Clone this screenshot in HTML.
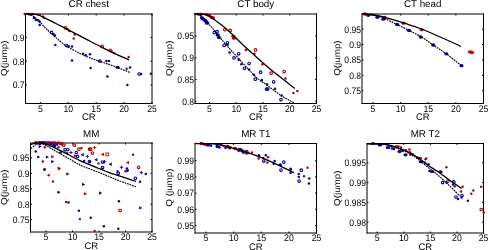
<!DOCTYPE html>
<html><head><meta charset="utf-8"><style>
html,body{margin:0;padding:0;background:#fff;width:488px;height:250px;overflow:hidden}
svg{display:block;will-change:transform}
</style></head><body>
<svg width="488" height="250" viewBox="0 0 488 250" font-family='"Liberation Sans", sans-serif' fill="#000" text-rendering="geometricPrecision">
<rect width="488" height="250" fill="#fff"/>
<line x1="25.5" y1="14" x2="25.5" y2="104.0" stroke="#000" stroke-width="1" />
<line x1="152" y1="13.5" x2="152" y2="104.0" stroke="#000" stroke-width="1" />
<line x1="25.0" y1="14" x2="152.5" y2="14" stroke="#000" stroke-width="1" />
<line x1="25.0" y1="103.5" x2="152.5" y2="103.5" stroke="#000" stroke-width="1" />
<line x1="40.4" y1="103.5" x2="40.4" y2="102.0" stroke="#000" stroke-width="1" />
<line x1="40.4" y1="14" x2="40.4" y2="15.5" stroke="#000" stroke-width="1" />
<text transform="translate(40.4,111.7) scale(1,1.1)" font-size="8.7" text-anchor="middle" >5</text>
<line x1="68.3" y1="103.5" x2="68.3" y2="102.0" stroke="#000" stroke-width="1" />
<line x1="68.3" y1="14" x2="68.3" y2="15.5" stroke="#000" stroke-width="1" />
<text transform="translate(68.3,111.7) scale(1,1.1)" font-size="8.7" text-anchor="middle" >10</text>
<line x1="96.19999999999999" y1="103.5" x2="96.19999999999999" y2="102.0" stroke="#000" stroke-width="1" />
<line x1="96.19999999999999" y1="14" x2="96.19999999999999" y2="15.5" stroke="#000" stroke-width="1" />
<text transform="translate(96.19999999999999,111.7) scale(1,1.1)" font-size="8.7" text-anchor="middle" >15</text>
<line x1="124.1" y1="103.5" x2="124.1" y2="102.0" stroke="#000" stroke-width="1" />
<line x1="124.1" y1="14" x2="124.1" y2="15.5" stroke="#000" stroke-width="1" />
<text transform="translate(124.1,111.7) scale(1,1.1)" font-size="8.7" text-anchor="middle" >20</text>
<line x1="152.0" y1="103.5" x2="152.0" y2="102.0" stroke="#000" stroke-width="1" />
<line x1="152.0" y1="14" x2="152.0" y2="15.5" stroke="#000" stroke-width="1" />
<text transform="translate(152.0,111.7) scale(1,1.1)" font-size="8.7" text-anchor="middle" >25</text>
<line x1="25.5" y1="37.4" x2="27.0" y2="37.4" stroke="#000" stroke-width="1" />
<line x1="152" y1="37.4" x2="150.5" y2="37.4" stroke="#000" stroke-width="1" />
<text transform="translate(24.6,40.699999999999996) scale(1,1.1)" font-size="8.6" text-anchor="end" >0.9</text>
<line x1="25.5" y1="61.2" x2="27.0" y2="61.2" stroke="#000" stroke-width="1" />
<line x1="152" y1="61.2" x2="150.5" y2="61.2" stroke="#000" stroke-width="1" />
<text transform="translate(24.6,64.5) scale(1,1.1)" font-size="8.6" text-anchor="end" >0.8</text>
<line x1="25.5" y1="85.0" x2="27.0" y2="85.0" stroke="#000" stroke-width="1" />
<line x1="152" y1="85.0" x2="150.5" y2="85.0" stroke="#000" stroke-width="1" />
<text transform="translate(24.6,88.3) scale(1,1.1)" font-size="8.6" text-anchor="end" >0.7</text>
<text transform="translate(88.75,7.3) scale(1,1.0)" font-size="9.8" text-anchor="middle" >CR chest</text>
<text transform="translate(88.75,120.4) scale(1,1.0)" font-size="9.5" text-anchor="middle" >CR</text>
<text x="0" y="0" font-size="9.8" text-anchor="middle" transform="translate(7.35,58.2) rotate(-90) scale(1,0.87)" xml:space="preserve">Q(jump)</text>
<line x1="195" y1="14" x2="195" y2="104.0" stroke="#000" stroke-width="1" />
<line x1="316.5" y1="13.5" x2="316.5" y2="104.0" stroke="#000" stroke-width="1" />
<line x1="194.5" y1="14" x2="317.0" y2="14" stroke="#000" stroke-width="1" />
<line x1="194.5" y1="103.5" x2="317.0" y2="103.5" stroke="#000" stroke-width="1" />
<line x1="209.5" y1="103.5" x2="209.5" y2="102.0" stroke="#000" stroke-width="1" />
<line x1="209.5" y1="14" x2="209.5" y2="15.5" stroke="#000" stroke-width="1" />
<text transform="translate(209.5,111.7) scale(1,1.1)" font-size="8.7" text-anchor="middle" >5</text>
<line x1="236.25" y1="103.5" x2="236.25" y2="102.0" stroke="#000" stroke-width="1" />
<line x1="236.25" y1="14" x2="236.25" y2="15.5" stroke="#000" stroke-width="1" />
<text transform="translate(236.25,111.7) scale(1,1.1)" font-size="8.7" text-anchor="middle" >10</text>
<line x1="263.0" y1="103.5" x2="263.0" y2="102.0" stroke="#000" stroke-width="1" />
<line x1="263.0" y1="14" x2="263.0" y2="15.5" stroke="#000" stroke-width="1" />
<text transform="translate(263.0,111.7) scale(1,1.1)" font-size="8.7" text-anchor="middle" >15</text>
<line x1="289.75" y1="103.5" x2="289.75" y2="102.0" stroke="#000" stroke-width="1" />
<line x1="289.75" y1="14" x2="289.75" y2="15.5" stroke="#000" stroke-width="1" />
<text transform="translate(289.75,111.7) scale(1,1.1)" font-size="8.7" text-anchor="middle" >20</text>
<line x1="316.5" y1="103.5" x2="316.5" y2="102.0" stroke="#000" stroke-width="1" />
<line x1="316.5" y1="14" x2="316.5" y2="15.5" stroke="#000" stroke-width="1" />
<text transform="translate(316.5,111.7) scale(1,1.1)" font-size="8.7" text-anchor="middle" >25</text>
<line x1="195" y1="36.1" x2="196.5" y2="36.1" stroke="#000" stroke-width="1" />
<line x1="316.5" y1="36.1" x2="315.0" y2="36.1" stroke="#000" stroke-width="1" />
<text transform="translate(194.1,39.4) scale(1,1.1)" font-size="8.6" text-anchor="end" >0.95</text>
<line x1="195" y1="57.8" x2="196.5" y2="57.8" stroke="#000" stroke-width="1" />
<line x1="316.5" y1="57.8" x2="315.0" y2="57.8" stroke="#000" stroke-width="1" />
<text transform="translate(194.1,61.099999999999994) scale(1,1.1)" font-size="8.6" text-anchor="end" >0.9</text>
<line x1="195" y1="79.5" x2="196.5" y2="79.5" stroke="#000" stroke-width="1" />
<line x1="316.5" y1="79.5" x2="315.0" y2="79.5" stroke="#000" stroke-width="1" />
<text transform="translate(194.1,82.8) scale(1,1.1)" font-size="8.6" text-anchor="end" >0.85</text>
<line x1="195" y1="101.19999999999999" x2="196.5" y2="101.19999999999999" stroke="#000" stroke-width="1" />
<line x1="316.5" y1="101.19999999999999" x2="315.0" y2="101.19999999999999" stroke="#000" stroke-width="1" />
<text transform="translate(194.1,104.49999999999999) scale(1,1.1)" font-size="8.6" text-anchor="end" >0.8</text>
<text transform="translate(255.75,7.3) scale(1,1.0)" font-size="9.8" text-anchor="middle" >CT body</text>
<text transform="translate(255.75,120.4) scale(1,1.0)" font-size="9.5" text-anchor="middle" >CR</text>
<text x="0" y="0" font-size="9.8" text-anchor="middle" transform="translate(172.35,58.3) rotate(-90) scale(1,0.87)" xml:space="preserve">Q(jump)</text>
<line x1="362" y1="14" x2="362" y2="104.0" stroke="#000" stroke-width="1" />
<line x1="483.5" y1="13.5" x2="483.5" y2="104.0" stroke="#000" stroke-width="1" />
<line x1="361.5" y1="14" x2="484.0" y2="14" stroke="#000" stroke-width="1" />
<line x1="361.5" y1="103.5" x2="484.0" y2="103.5" stroke="#000" stroke-width="1" />
<line x1="373.0" y1="103.5" x2="373.0" y2="102.0" stroke="#000" stroke-width="1" />
<line x1="373.0" y1="14" x2="373.0" y2="15.5" stroke="#000" stroke-width="1" />
<text transform="translate(373.0,111.7) scale(1,1.1)" font-size="8.7" text-anchor="middle" >5</text>
<line x1="400.625" y1="103.5" x2="400.625" y2="102.0" stroke="#000" stroke-width="1" />
<line x1="400.625" y1="14" x2="400.625" y2="15.5" stroke="#000" stroke-width="1" />
<text transform="translate(400.625,111.7) scale(1,1.1)" font-size="8.7" text-anchor="middle" >10</text>
<line x1="428.25" y1="103.5" x2="428.25" y2="102.0" stroke="#000" stroke-width="1" />
<line x1="428.25" y1="14" x2="428.25" y2="15.5" stroke="#000" stroke-width="1" />
<text transform="translate(428.25,111.7) scale(1,1.1)" font-size="8.7" text-anchor="middle" >15</text>
<line x1="455.875" y1="103.5" x2="455.875" y2="102.0" stroke="#000" stroke-width="1" />
<line x1="455.875" y1="14" x2="455.875" y2="15.5" stroke="#000" stroke-width="1" />
<text transform="translate(455.875,111.7) scale(1,1.1)" font-size="8.7" text-anchor="middle" >20</text>
<line x1="483.5" y1="103.5" x2="483.5" y2="102.0" stroke="#000" stroke-width="1" />
<line x1="483.5" y1="14" x2="483.5" y2="15.5" stroke="#000" stroke-width="1" />
<text transform="translate(483.5,111.7) scale(1,1.1)" font-size="8.7" text-anchor="middle" >25</text>
<line x1="362" y1="29.2" x2="363.5" y2="29.2" stroke="#000" stroke-width="1" />
<line x1="483.5" y1="29.2" x2="482.0" y2="29.2" stroke="#000" stroke-width="1" />
<text transform="translate(361.1,32.5) scale(1,1.1)" font-size="8.6" text-anchor="end" >0.95</text>
<line x1="362" y1="44.6" x2="363.5" y2="44.6" stroke="#000" stroke-width="1" />
<line x1="483.5" y1="44.6" x2="482.0" y2="44.6" stroke="#000" stroke-width="1" />
<text transform="translate(361.1,47.9) scale(1,1.1)" font-size="8.6" text-anchor="end" >0.9</text>
<line x1="362" y1="60.0" x2="363.5" y2="60.0" stroke="#000" stroke-width="1" />
<line x1="483.5" y1="60.0" x2="482.0" y2="60.0" stroke="#000" stroke-width="1" />
<text transform="translate(361.1,63.3) scale(1,1.1)" font-size="8.6" text-anchor="end" >0.85</text>
<line x1="362" y1="75.4" x2="363.5" y2="75.4" stroke="#000" stroke-width="1" />
<line x1="483.5" y1="75.4" x2="482.0" y2="75.4" stroke="#000" stroke-width="1" />
<text transform="translate(361.1,78.7) scale(1,1.1)" font-size="8.6" text-anchor="end" >0.8</text>
<line x1="362" y1="90.80000000000001" x2="363.5" y2="90.80000000000001" stroke="#000" stroke-width="1" />
<line x1="483.5" y1="90.80000000000001" x2="482.0" y2="90.80000000000001" stroke="#000" stroke-width="1" />
<text transform="translate(361.1,94.10000000000001) scale(1,1.1)" font-size="8.6" text-anchor="end" >0.75</text>
<text transform="translate(422.75,7.3) scale(1,1.0)" font-size="9.8" text-anchor="middle" >CT head</text>
<text transform="translate(422.75,120.4) scale(1,1.0)" font-size="9.5" text-anchor="middle" >CR</text>
<text x="0" y="0" font-size="9.8" text-anchor="middle" transform="translate(340.1,58.1) rotate(-90) scale(1,0.87)" xml:space="preserve">Q(jump)</text>
<line x1="30.5" y1="143" x2="30.5" y2="232.5" stroke="#000" stroke-width="1" />
<line x1="152" y1="142.5" x2="152" y2="232.5" stroke="#000" stroke-width="1" />
<line x1="30.0" y1="143" x2="152.5" y2="143" stroke="#000" stroke-width="1" />
<line x1="30.0" y1="232" x2="152.5" y2="232" stroke="#000" stroke-width="1" />
<line x1="46.0" y1="232" x2="46.0" y2="230.5" stroke="#000" stroke-width="1" />
<line x1="46.0" y1="143" x2="46.0" y2="144.5" stroke="#000" stroke-width="1" />
<text transform="translate(46.0,240.2) scale(1,1.1)" font-size="8.7" text-anchor="middle" >5</text>
<line x1="72.5" y1="232" x2="72.5" y2="230.5" stroke="#000" stroke-width="1" />
<line x1="72.5" y1="143" x2="72.5" y2="144.5" stroke="#000" stroke-width="1" />
<text transform="translate(72.5,240.2) scale(1,1.1)" font-size="8.7" text-anchor="middle" >10</text>
<line x1="99.0" y1="232" x2="99.0" y2="230.5" stroke="#000" stroke-width="1" />
<line x1="99.0" y1="143" x2="99.0" y2="144.5" stroke="#000" stroke-width="1" />
<text transform="translate(99.0,240.2) scale(1,1.1)" font-size="8.7" text-anchor="middle" >15</text>
<line x1="125.5" y1="232" x2="125.5" y2="230.5" stroke="#000" stroke-width="1" />
<line x1="125.5" y1="143" x2="125.5" y2="144.5" stroke="#000" stroke-width="1" />
<text transform="translate(125.5,240.2) scale(1,1.1)" font-size="8.7" text-anchor="middle" >20</text>
<line x1="152.0" y1="232" x2="152.0" y2="230.5" stroke="#000" stroke-width="1" />
<line x1="152.0" y1="143" x2="152.0" y2="144.5" stroke="#000" stroke-width="1" />
<text transform="translate(152.0,240.2) scale(1,1.1)" font-size="8.7" text-anchor="middle" >25</text>
<line x1="30.5" y1="158.0" x2="32.0" y2="158.0" stroke="#000" stroke-width="1" />
<line x1="152" y1="158.0" x2="150.5" y2="158.0" stroke="#000" stroke-width="1" />
<text transform="translate(29.6,161.3) scale(1,1.1)" font-size="8.6" text-anchor="end" >0.95</text>
<line x1="30.5" y1="173.4" x2="32.0" y2="173.4" stroke="#000" stroke-width="1" />
<line x1="152" y1="173.4" x2="150.5" y2="173.4" stroke="#000" stroke-width="1" />
<text transform="translate(29.6,176.70000000000002) scale(1,1.1)" font-size="8.6" text-anchor="end" >0.9</text>
<line x1="30.5" y1="188.8" x2="32.0" y2="188.8" stroke="#000" stroke-width="1" />
<line x1="152" y1="188.8" x2="150.5" y2="188.8" stroke="#000" stroke-width="1" />
<text transform="translate(29.6,192.10000000000002) scale(1,1.1)" font-size="8.6" text-anchor="end" >0.85</text>
<line x1="30.5" y1="204.20000000000002" x2="32.0" y2="204.20000000000002" stroke="#000" stroke-width="1" />
<line x1="152" y1="204.20000000000002" x2="150.5" y2="204.20000000000002" stroke="#000" stroke-width="1" />
<text transform="translate(29.6,207.50000000000003) scale(1,1.1)" font-size="8.6" text-anchor="end" >0.8</text>
<line x1="30.5" y1="219.60000000000002" x2="32.0" y2="219.60000000000002" stroke="#000" stroke-width="1" />
<line x1="152" y1="219.60000000000002" x2="150.5" y2="219.60000000000002" stroke="#000" stroke-width="1" />
<text transform="translate(29.6,222.90000000000003) scale(1,1.1)" font-size="8.6" text-anchor="end" >0.75</text>
<text transform="translate(91.25,136.5) scale(1,1.0)" font-size="9.8" text-anchor="middle" >MM</text>
<text transform="translate(91.25,248.9) scale(1,1.0)" font-size="9.5" text-anchor="middle" >CR</text>
<text x="0" y="0" font-size="9.8" text-anchor="middle" transform="translate(7.1499999999999995,187.3) rotate(-90) scale(1,0.87)" xml:space="preserve">Q(jump)</text>
<line x1="195" y1="143.5" x2="195" y2="233.5" stroke="#000" stroke-width="1" />
<line x1="316.5" y1="143.0" x2="316.5" y2="233.5" stroke="#000" stroke-width="1" />
<line x1="194.5" y1="143.5" x2="317.0" y2="143.5" stroke="#000" stroke-width="1" />
<line x1="194.5" y1="233" x2="317.0" y2="233" stroke="#000" stroke-width="1" />
<line x1="206.0" y1="233" x2="206.0" y2="231.5" stroke="#000" stroke-width="1" />
<line x1="206.0" y1="143.5" x2="206.0" y2="145.0" stroke="#000" stroke-width="1" />
<text transform="translate(206.0,241.2) scale(1,1.1)" font-size="8.7" text-anchor="middle" >5</text>
<line x1="233.625" y1="233" x2="233.625" y2="231.5" stroke="#000" stroke-width="1" />
<line x1="233.625" y1="143.5" x2="233.625" y2="145.0" stroke="#000" stroke-width="1" />
<text transform="translate(233.625,241.2) scale(1,1.1)" font-size="8.7" text-anchor="middle" >10</text>
<line x1="261.25" y1="233" x2="261.25" y2="231.5" stroke="#000" stroke-width="1" />
<line x1="261.25" y1="143.5" x2="261.25" y2="145.0" stroke="#000" stroke-width="1" />
<text transform="translate(261.25,241.2) scale(1,1.1)" font-size="8.7" text-anchor="middle" >15</text>
<line x1="288.875" y1="233" x2="288.875" y2="231.5" stroke="#000" stroke-width="1" />
<line x1="288.875" y1="143.5" x2="288.875" y2="145.0" stroke="#000" stroke-width="1" />
<text transform="translate(288.875,241.2) scale(1,1.1)" font-size="8.7" text-anchor="middle" >20</text>
<line x1="316.5" y1="233" x2="316.5" y2="231.5" stroke="#000" stroke-width="1" />
<line x1="316.5" y1="143.5" x2="316.5" y2="145.0" stroke="#000" stroke-width="1" />
<text transform="translate(316.5,241.2) scale(1,1.1)" font-size="8.7" text-anchor="middle" >25</text>
<line x1="195" y1="160.7" x2="196.5" y2="160.7" stroke="#000" stroke-width="1" />
<line x1="316.5" y1="160.7" x2="315.0" y2="160.7" stroke="#000" stroke-width="1" />
<text transform="translate(194.1,164.0) scale(1,1.1)" font-size="8.6" text-anchor="end" >0.99</text>
<line x1="195" y1="176.9" x2="196.5" y2="176.9" stroke="#000" stroke-width="1" />
<line x1="316.5" y1="176.9" x2="315.0" y2="176.9" stroke="#000" stroke-width="1" />
<text transform="translate(194.1,180.20000000000002) scale(1,1.1)" font-size="8.6" text-anchor="end" >0.98</text>
<line x1="195" y1="193.10000000000002" x2="196.5" y2="193.10000000000002" stroke="#000" stroke-width="1" />
<line x1="316.5" y1="193.10000000000002" x2="315.0" y2="193.10000000000002" stroke="#000" stroke-width="1" />
<text transform="translate(194.1,196.40000000000003) scale(1,1.1)" font-size="8.6" text-anchor="end" >0.97</text>
<line x1="195" y1="209.30000000000004" x2="196.5" y2="209.30000000000004" stroke="#000" stroke-width="1" />
<line x1="316.5" y1="209.30000000000004" x2="315.0" y2="209.30000000000004" stroke="#000" stroke-width="1" />
<text transform="translate(194.1,212.60000000000005) scale(1,1.1)" font-size="8.6" text-anchor="end" >0.96</text>
<line x1="195" y1="225.50000000000006" x2="196.5" y2="225.50000000000006" stroke="#000" stroke-width="1" />
<line x1="316.5" y1="225.50000000000006" x2="315.0" y2="225.50000000000006" stroke="#000" stroke-width="1" />
<text transform="translate(194.1,228.80000000000007) scale(1,1.1)" font-size="8.6" text-anchor="end" >0.95</text>
<text transform="translate(255.75,137.0) scale(1,1.0)" font-size="9.8" text-anchor="middle" >MR T1</text>
<text transform="translate(255.75,249.9) scale(1,1.0)" font-size="9.5" text-anchor="middle" >CR</text>
<text x="0" y="0" font-size="9.8" text-anchor="middle" transform="translate(172.2,187.6) rotate(-90) scale(1,0.87)" xml:space="preserve">Q (jump)</text>
<line x1="367" y1="143.5" x2="367" y2="233.5" stroke="#000" stroke-width="1" />
<line x1="483.5" y1="143.0" x2="483.5" y2="233.5" stroke="#000" stroke-width="1" />
<line x1="366.5" y1="143.5" x2="484.0" y2="143.5" stroke="#000" stroke-width="1" />
<line x1="366.5" y1="233" x2="484.0" y2="233" stroke="#000" stroke-width="1" />
<line x1="377.25" y1="233" x2="377.25" y2="231.5" stroke="#000" stroke-width="1" />
<line x1="377.25" y1="143.5" x2="377.25" y2="145.0" stroke="#000" stroke-width="1" />
<text transform="translate(377.25,241.2) scale(1,1.1)" font-size="8.7" text-anchor="middle" >5</text>
<line x1="403.8125" y1="233" x2="403.8125" y2="231.5" stroke="#000" stroke-width="1" />
<line x1="403.8125" y1="143.5" x2="403.8125" y2="145.0" stroke="#000" stroke-width="1" />
<text transform="translate(403.8125,241.2) scale(1,1.1)" font-size="8.7" text-anchor="middle" >10</text>
<line x1="430.375" y1="233" x2="430.375" y2="231.5" stroke="#000" stroke-width="1" />
<line x1="430.375" y1="143.5" x2="430.375" y2="145.0" stroke="#000" stroke-width="1" />
<text transform="translate(430.375,241.2) scale(1,1.1)" font-size="8.7" text-anchor="middle" >15</text>
<line x1="456.9375" y1="233" x2="456.9375" y2="231.5" stroke="#000" stroke-width="1" />
<line x1="456.9375" y1="143.5" x2="456.9375" y2="145.0" stroke="#000" stroke-width="1" />
<text transform="translate(456.9375,241.2) scale(1,1.1)" font-size="8.7" text-anchor="middle" >20</text>
<line x1="483.5" y1="233" x2="483.5" y2="231.5" stroke="#000" stroke-width="1" />
<line x1="483.5" y1="143.5" x2="483.5" y2="145.0" stroke="#000" stroke-width="1" />
<text transform="translate(483.5,241.2) scale(1,1.1)" font-size="8.7" text-anchor="middle" >25</text>
<line x1="367" y1="162.8" x2="368.5" y2="162.8" stroke="#000" stroke-width="1" />
<line x1="483.5" y1="162.8" x2="482.0" y2="162.8" stroke="#000" stroke-width="1" />
<text transform="translate(366.1,166.10000000000002) scale(1,1.1)" font-size="8.6" text-anchor="end" >0.995</text>
<line x1="367" y1="182.6" x2="368.5" y2="182.6" stroke="#000" stroke-width="1" />
<line x1="483.5" y1="182.6" x2="482.0" y2="182.6" stroke="#000" stroke-width="1" />
<text transform="translate(366.1,185.9) scale(1,1.1)" font-size="8.6" text-anchor="end" >0.99</text>
<line x1="367" y1="202.39999999999998" x2="368.5" y2="202.39999999999998" stroke="#000" stroke-width="1" />
<line x1="483.5" y1="202.39999999999998" x2="482.0" y2="202.39999999999998" stroke="#000" stroke-width="1" />
<text transform="translate(366.1,205.7) scale(1,1.1)" font-size="8.6" text-anchor="end" >0.985</text>
<line x1="367" y1="222.19999999999996" x2="368.5" y2="222.19999999999996" stroke="#000" stroke-width="1" />
<line x1="483.5" y1="222.19999999999996" x2="482.0" y2="222.19999999999996" stroke="#000" stroke-width="1" />
<text transform="translate(366.1,225.49999999999997) scale(1,1.1)" font-size="8.6" text-anchor="end" >0.98</text>
<text transform="translate(425.25,137.0) scale(1,1.0)" font-size="9.8" text-anchor="middle" >MR T2</text>
<text transform="translate(425.25,249.9) scale(1,1.0)" font-size="9.5" text-anchor="middle" >CR</text>
<text x="0" y="0" font-size="9.8" text-anchor="middle" transform="translate(340.1,188.2) rotate(-90) scale(1,0.87)" xml:space="preserve">Q(jump)</text>
<circle cx="24.7" cy="14" r="1.25" fill="#c00000"/>
<circle cx="32.5" cy="14" r="1.25" fill="#c00000"/>
<circle cx="38.4" cy="14.5" r="1.25" fill="#c00000"/>
<circle cx="43" cy="16.5" r="1.25" fill="#c00000"/>
<circle cx="44.3" cy="18" r="1.25" fill="#c00000"/>
<circle cx="65.4" cy="27.8" r="1.3" fill="none" stroke="#c00000" stroke-width="1.1"/>
<circle cx="67.3" cy="29" r="1.25" fill="#c00000"/>
<circle cx="69.3" cy="31" r="1.25" fill="#c00000"/>
<circle cx="73.7" cy="38.6" r="1.25" fill="#c00000"/>
<circle cx="74.7" cy="34.5" r="1.25" fill="#c00000"/>
<circle cx="102.2" cy="46.4" r="1.3" fill="none" stroke="#c00000" stroke-width="1.1"/>
<circle cx="110.3" cy="50.3" r="1.3" fill="none" stroke="#c00000" stroke-width="1.1"/>
<circle cx="111.6" cy="51.2" r="1.25" fill="#c00000"/>
<circle cx="114.3" cy="53.2" r="1.25" fill="#c00000"/>
<circle cx="128.7" cy="56.9" r="1.25" fill="#c00000"/>
<circle cx="126.7" cy="68.7" r="1.25" fill="#c00000"/>
<circle cx="28.6" cy="14" r="1.25" fill="#0000b4"/>
<circle cx="30.6" cy="14.5" r="1.25" fill="#0000b4"/>
<circle cx="33.9" cy="17.9" r="1.25" fill="#0000b4"/>
<circle cx="35.8" cy="19.9" r="1.25" fill="#0000b4"/>
<circle cx="38.4" cy="20.5" r="1.25" fill="#0000b4"/>
<circle cx="39.7" cy="21.8" r="1.25" fill="#0000b4"/>
<circle cx="39.7" cy="25.1" r="1.25" fill="#0000b4"/>
<circle cx="51.6" cy="32.4" r="1.3" fill="none" stroke="#0000b4" stroke-width="1.1"/>
<circle cx="53.6" cy="34.3" r="1.25" fill="#0000b4"/>
<circle cx="54.9" cy="35.6" r="1.25" fill="#0000b4"/>
<circle cx="55.3" cy="45" r="1.25" fill="#0000b4"/>
<circle cx="66.7" cy="45.6" r="1.3" fill="none" stroke="#0000b4" stroke-width="1.1"/>
<circle cx="68.7" cy="46.6" r="1.25" fill="#0000b4"/>
<circle cx="72" cy="46.4" r="1.25" fill="#0000b4"/>
<circle cx="72" cy="60.4" r="1.25" fill="#0000b4"/>
<circle cx="83.2" cy="53.8" r="1.25" fill="#0000b4"/>
<circle cx="85.8" cy="55.2" r="1.25" fill="#0000b4"/>
<circle cx="90" cy="54.2" r="1.25" fill="#0000b4"/>
<circle cx="99.8" cy="61.1" r="1.3" fill="none" stroke="#0000b4" stroke-width="1.1"/>
<circle cx="106.4" cy="61.1" r="1.25" fill="#0000b4"/>
<circle cx="109" cy="61" r="1.25" fill="#0000b4"/>
<circle cx="90.6" cy="68" r="1.25" fill="#0000b4"/>
<ellipse cx="117.6" cy="67.4" rx="2.1" ry="1.65" fill="#0000b4"/>
<circle cx="130" cy="67.6" r="1.25" fill="#0000b4"/>
<circle cx="107.4" cy="76.6" r="1.25" fill="#0000b4"/>
<circle cx="127.4" cy="84.9" r="1.25" fill="#0000b4"/>
<circle cx="139.2" cy="74" r="1.3" fill="none" stroke="#0000b4" stroke-width="1.1"/>
<circle cx="141.2" cy="74" r="1.25" fill="#0000b4"/>
<circle cx="151" cy="73.7" r="1.25" fill="#0000b4"/>
<circle cx="195" cy="14" r="1.25" fill="#c00000"/>
<ellipse cx="200.5" cy="14.3" rx="2.1" ry="1.65" fill="#c00000"/>
<ellipse cx="206.5" cy="14.6" rx="2.1" ry="1.65" fill="#c00000"/>
<ellipse cx="209.1" cy="15.7" rx="2.1" ry="1.65" fill="#c00000"/>
<ellipse cx="211.7" cy="17.3" rx="2.1" ry="1.65" fill="#c00000"/>
<ellipse cx="213" cy="17.9" rx="2.1" ry="1.65" fill="#c00000"/>
<circle cx="224.9" cy="29.7" r="1.3" fill="none" stroke="#c00000" stroke-width="1.1"/>
<circle cx="230.2" cy="30.4" r="1.3" fill="none" stroke="#c00000" stroke-width="1.1"/>
<ellipse cx="233.3" cy="36.3" rx="2.1" ry="1.65" fill="#c00000"/>
<ellipse cx="234" cy="38.2" rx="2.1" ry="1.65" fill="#c00000"/>
<circle cx="245.9" cy="49.9" r="1.25" fill="#c00000"/>
<circle cx="255.5" cy="49.9" r="1.3" fill="none" stroke="#c00000" stroke-width="1.1"/>
<circle cx="254.4" cy="53.8" r="1.25" fill="#c00000"/>
<circle cx="262.5" cy="64.3" r="1.25" fill="#c00000"/>
<circle cx="271.1" cy="73.2" r="1.3" fill="none" stroke="#c00000" stroke-width="1.1"/>
<circle cx="284.2" cy="71.6" r="1.3" fill="none" stroke="#c00000" stroke-width="1.1"/>
<circle cx="285.5" cy="78.6" r="1.25" fill="#c00000"/>
<circle cx="293.4" cy="93" r="1.25" fill="#c00000"/>
<circle cx="297.3" cy="91.1" r="1.25" fill="#c00000"/>
<circle cx="198" cy="14" r="1.25" fill="#0000b4"/>
<circle cx="201" cy="15" r="1.25" fill="#0000b4"/>
<ellipse cx="201.9" cy="17.9" rx="2.1" ry="1.65" fill="#0000b4"/>
<ellipse cx="203.2" cy="19.2" rx="2.1" ry="1.65" fill="#0000b4"/>
<ellipse cx="205.2" cy="20.5" rx="2.1" ry="1.65" fill="#0000b4"/>
<ellipse cx="206.5" cy="21.9" rx="2.1" ry="1.65" fill="#0000b4"/>
<ellipse cx="207.1" cy="23.2" rx="2.1" ry="1.65" fill="#0000b4"/>
<circle cx="214.3" cy="32.4" r="1.3" fill="none" stroke="#0000b4" stroke-width="1.1"/>
<circle cx="217" cy="31.7" r="1.3" fill="none" stroke="#0000b4" stroke-width="1.1"/>
<ellipse cx="217.7" cy="35" rx="2.1" ry="1.65" fill="#0000b4"/>
<ellipse cx="219" cy="37.6" rx="2.1" ry="1.65" fill="#0000b4"/>
<circle cx="227.5" cy="42.8" r="1.3" fill="none" stroke="#0000b4" stroke-width="1.1"/>
<circle cx="224.2" cy="45.3" r="1.3" fill="none" stroke="#0000b4" stroke-width="1.1"/>
<circle cx="227.5" cy="44.7" r="1.25" fill="#0000b4"/>
<circle cx="229.5" cy="52.5" r="1.25" fill="#0000b4"/>
<circle cx="238.7" cy="53.8" r="1.3" fill="none" stroke="#0000b4" stroke-width="1.1"/>
<circle cx="234" cy="57.8" r="1.3" fill="none" stroke="#0000b4" stroke-width="1.1"/>
<circle cx="238.7" cy="59.8" r="1.25" fill="#0000b4"/>
<circle cx="241.4" cy="64.3" r="1.25" fill="#0000b4"/>
<circle cx="244.5" cy="68.3" r="1.3" fill="none" stroke="#0000b4" stroke-width="1.1"/>
<circle cx="249.1" cy="63.5" r="1.3" fill="none" stroke="#0000b4" stroke-width="1.1"/>
<circle cx="249.1" cy="69.6" r="1.25" fill="#0000b4"/>
<circle cx="253.8" cy="74.8" r="1.25" fill="#0000b4"/>
<circle cx="260.6" cy="72.2" r="1.3" fill="none" stroke="#0000b4" stroke-width="1.1"/>
<circle cx="255.3" cy="79.2" r="1.3" fill="none" stroke="#0000b4" stroke-width="1.1"/>
<circle cx="261.9" cy="79.9" r="1.25" fill="#0000b4"/>
<circle cx="267.1" cy="84.5" r="1.25" fill="#0000b4"/>
<circle cx="273.7" cy="81.8" r="1.3" fill="none" stroke="#0000b4" stroke-width="1.1"/>
<circle cx="266.5" cy="89.1" r="1.3" fill="none" stroke="#0000b4" stroke-width="1.1"/>
<circle cx="267.8" cy="89.1" r="1.3" fill="none" stroke="#0000b4" stroke-width="1.1"/>
<circle cx="275" cy="88.8" r="1.25" fill="#0000b4"/>
<circle cx="281.6" cy="95.6" r="1.25" fill="#0000b4"/>
<circle cx="281" cy="99.6" r="1.3" fill="none" stroke="#0000b4" stroke-width="1.1"/>
<ellipse cx="364.9" cy="14" rx="2.1" ry="1.65" fill="#c00000"/>
<ellipse cx="384.6" cy="17.3" rx="2.1" ry="1.65" fill="#c00000"/>
<ellipse cx="403.6" cy="23.2" rx="2.1" ry="1.65" fill="#c00000"/>
<ellipse cx="421.6" cy="29.7" rx="2.1" ry="1.65" fill="#c00000"/>
<ellipse cx="470" cy="51.9" rx="2.1" ry="1.65" fill="#c00000"/>
<ellipse cx="472" cy="52.5" rx="2.1" ry="1.65" fill="#c00000"/>
<ellipse cx="368.2" cy="15.3" rx="2.1" ry="1.65" fill="#0000b4"/>
<ellipse cx="377.4" cy="17.3" rx="2.1" ry="1.65" fill="#0000b4"/>
<ellipse cx="383.3" cy="19.2" rx="2.1" ry="1.65" fill="#0000b4"/>
<ellipse cx="397.1" cy="24.5" rx="2.1" ry="1.65" fill="#0000b4"/>
<ellipse cx="408.9" cy="30.4" rx="2.1" ry="1.65" fill="#0000b4"/>
<ellipse cx="420.7" cy="37" rx="2.1" ry="1.65" fill="#0000b4"/>
<ellipse cx="433.2" cy="45" rx="2.1" ry="1.65" fill="#0000b4"/>
<ellipse cx="446.3" cy="53.8" rx="2.1" ry="1.65" fill="#0000b4"/>
<ellipse cx="461.5" cy="65.7" rx="2.1" ry="1.65" fill="#0000b4"/>
<circle cx="35" cy="143" r="1.25" fill="#c00000"/>
<circle cx="36.2" cy="142.5" r="1.25" fill="#c00000"/>
<circle cx="38.8" cy="142.5" r="1.25" fill="#c00000"/>
<circle cx="45" cy="142.5" r="1.25" fill="#c00000"/>
<circle cx="47.4" cy="142.5" r="1.25" fill="#c00000"/>
<circle cx="48.7" cy="142.5" r="1.25" fill="#c00000"/>
<circle cx="53" cy="142.6" r="1.25" fill="#c00000"/>
<circle cx="55.3" cy="142.5" r="1.25" fill="#c00000"/>
<circle cx="59.2" cy="143" r="1.25" fill="#c00000"/>
<circle cx="61" cy="143.5" r="1.3" fill="none" stroke="#c00000" stroke-width="1.1"/>
<circle cx="63.8" cy="145.2" r="1.3" fill="none" stroke="#c00000" stroke-width="1.1"/>
<circle cx="74.3" cy="145.2" r="1.3" fill="none" stroke="#c00000" stroke-width="1.1"/>
<circle cx="78.9" cy="149.2" r="1.3" fill="none" stroke="#c00000" stroke-width="1.1"/>
<circle cx="81.5" cy="147.9" r="1.25" fill="#c00000"/>
<circle cx="89.6" cy="149.2" r="1.3" fill="none" stroke="#c00000" stroke-width="1.1"/>
<circle cx="67.1" cy="153.1" r="1.25" fill="#c00000"/>
<circle cx="74.9" cy="155.8" r="1.25" fill="#c00000"/>
<path d="M51.1,155.10000000000002 L54.300000000000004,156.8 L51.1,158.5Z" fill="#c00000"/>
<circle cx="42.8" cy="161.6" r="1.25" fill="#c00000"/>
<path d="M57.7,166.5 L60.900000000000006,168.2 L57.7,169.89999999999998Z" fill="#c00000"/>
<circle cx="44.7" cy="147.2" r="1.25" fill="#c00000"/>
<circle cx="58.5" cy="147.2" r="1.25" fill="#c00000"/>
<circle cx="90.7" cy="149.2" r="1.3" fill="none" stroke="#c00000" stroke-width="1.1"/>
<path d="M92.89999999999999,147.6 H96.3 M94.6,145.9 V149.29999999999998" stroke="#c00000" stroke-width="0.9" fill="none"/>
<circle cx="92.4" cy="153.1" r="1.3" fill="none" stroke="#c00000" stroke-width="1.1"/>
<path d="M104.0,152.70000000000002 L100.8,154.4 L104.0,156.1Z" fill="#c00000"/>
<rect x="105.89999999999999" y="153.0" width="2.8" height="2.8" fill="none" stroke="#c00000" stroke-width="0.9"/>
<circle cx="133.1" cy="154.7" r="1.25" fill="#c00000"/>
<path d="M129.0,160.9 L125.8,162.6 L129.0,164.29999999999998Z" fill="#c00000"/>
<circle cx="98.5" cy="163.6" r="1.25" fill="#c00000"/>
<circle cx="138.6" cy="167.3" r="1.3" fill="none" stroke="#c00000" stroke-width="1.1"/>
<circle cx="125.5" cy="171.2" r="1.25" fill="#c00000"/>
<circle cx="59.2" cy="168.7" r="1.25" fill="#c00000"/>
<circle cx="48.7" cy="175.2" r="1.25" fill="#c00000"/>
<circle cx="52.9" cy="181.4" r="1.25" fill="#c00000"/>
<path d="M83.9,192.0 L87.10000000000001,193.7 L83.9,195.39999999999998Z" fill="#c00000"/>
<circle cx="66.1" cy="202" r="1.25" fill="#c00000"/>
<circle cx="79.9" cy="219.1" r="1.25" fill="#c00000"/>
<circle cx="120.2" cy="210.5" r="1.3" fill="none" stroke="#c00000" stroke-width="1.1"/>
<circle cx="94.6" cy="231" r="1.25" fill="#c00000"/>
<circle cx="39" cy="142.5" r="1.25" fill="#0000b4"/>
<circle cx="42.1" cy="142.5" r="1.25" fill="#0000b4"/>
<circle cx="43" cy="142.6" r="1.25" fill="#0000b4"/>
<circle cx="47" cy="144" r="1.25" fill="#0000b4"/>
<circle cx="50.7" cy="144" r="1.25" fill="#0000b4"/>
<circle cx="51" cy="143.5" r="1.25" fill="#0000b4"/>
<circle cx="54.6" cy="143.5" r="1.25" fill="#0000b4"/>
<circle cx="53.3" cy="146" r="1.25" fill="#0000b4"/>
<circle cx="65.1" cy="149.8" r="1.3" fill="none" stroke="#0000b4" stroke-width="1.1"/>
<circle cx="67.8" cy="149.5" r="1.3" fill="none" stroke="#0000b4" stroke-width="1.1"/>
<path d="M69.3,152.5 H72.7 M71,150.8 V154.2" stroke="#0000b4" stroke-width="0.9" fill="none"/>
<circle cx="76.3" cy="152.5" r="1.3" fill="none" stroke="#0000b4" stroke-width="1.1"/>
<circle cx="77.6" cy="156.4" r="1.3" fill="none" stroke="#0000b4" stroke-width="1.1"/>
<path d="M83.7,153.0 L80.5,154.7 L83.7,156.39999999999998Z" fill="#0000b4"/>
<path d="M85.7,156.4 H89.10000000000001 M87.4,154.70000000000002 V158.1" stroke="#0000b4" stroke-width="0.9" fill="none"/>
<circle cx="84.1" cy="161" r="1.25" fill="#0000b4"/>
<circle cx="89.4" cy="161.6" r="1.3" fill="none" stroke="#0000b4" stroke-width="1.1"/>
<circle cx="35.8" cy="151.5" r="1.25" fill="#0000b4"/>
<circle cx="38.2" cy="157.1" r="1.25" fill="#0000b4"/>
<path d="M45.9,155.4 L49.1,157.1 L45.9,158.79999999999998Z" fill="#0000b4"/>
<path d="M51.1,159.9 L54.300000000000004,161.6 L51.1,163.29999999999998Z" fill="#0000b4"/>
<circle cx="44.5" cy="169.5" r="1.25" fill="#0000b4"/>
<path d="M38.7,144.9 L41.900000000000006,146.6 L38.7,148.29999999999998Z" fill="#0000b4"/>
<circle cx="60.5" cy="152.5" r="1.25" fill="#0000b4"/>
<path d="M97.4,158.0 L94.2,159.7 L97.4,161.39999999999998Z" fill="#0000b4"/>
<circle cx="102.5" cy="162.1" r="1.3" fill="none" stroke="#0000b4" stroke-width="1.1"/>
<path d="M102.8,161.7 H106.2 M104.5,160.0 V163.39999999999998" stroke="#0000b4" stroke-width="0.9" fill="none"/>
<path d="M111.8,162.60000000000002 L108.6,164.3 L111.8,166.0Z" fill="#0000b4"/>
<circle cx="102.5" cy="167.6" r="1.3" fill="none" stroke="#0000b4" stroke-width="1.1"/>
<path d="M119.8,167.3 H123.2 M121.5,165.60000000000002 V169.0" stroke="#0000b4" stroke-width="0.9" fill="none"/>
<circle cx="126.8" cy="168.6" r="1.25" fill="#0000b4"/>
<circle cx="127.5" cy="170.8" r="1.25" fill="#0000b4"/>
<circle cx="90" cy="161.7" r="1.25" fill="#0000b4"/>
<circle cx="117.6" cy="171.5" r="1.25" fill="#0000b4"/>
<circle cx="101.8" cy="168.7" r="1.25" fill="#0000b4"/>
<circle cx="118.3" cy="173.3" r="1.3" fill="none" stroke="#0000b4" stroke-width="1.1"/>
<circle cx="127.5" cy="170" r="1.25" fill="#0000b4"/>
<path d="M139.60000000000002,172.6 H143.0 M141.3,170.9 V174.29999999999998" stroke="#0000b4" stroke-width="0.9" fill="none"/>
<circle cx="145.8" cy="173.9" r="1.25" fill="#0000b4"/>
<circle cx="135.4" cy="178.3" r="1.3" fill="none" stroke="#0000b4" stroke-width="1.1"/>
<circle cx="140" cy="181.8" r="1.25" fill="#0000b4"/>
<path d="M99.0,191.3 L102.2,193 L99.0,194.7Z" fill="#0000b4"/>
<circle cx="44.5" cy="169.6" r="1.25" fill="#0000b4"/>
<path d="M66.3,172.20000000000002 L69.5,173.9 L66.3,175.6Z" fill="#0000b4"/>
<path d="M82.0,182.70000000000002 L85.2,184.4 L82.0,186.1Z" fill="#0000b4"/>
<circle cx="58.5" cy="192.3" r="1.25" fill="#0000b4"/>
<circle cx="68.5" cy="202.6" r="1.25" fill="#0000b4"/>
<circle cx="78.9" cy="210.8" r="1.25" fill="#0000b4"/>
<circle cx="90.7" cy="217.8" r="1.25" fill="#0000b4"/>
<circle cx="118.9" cy="201.3" r="1.25" fill="#0000b4"/>
<path d="M139.1,206.20000000000002 L142.29999999999998,207.9 L139.1,209.6Z" fill="#0000b4"/>
<circle cx="103.8" cy="226.3" r="1.25" fill="#0000b4"/>
<circle cx="118.3" cy="228.7" r="1.25" fill="#0000b4"/>
<circle cx="34.5" cy="143" r="1.25" fill="#c00000"/>
<circle cx="36" cy="142.3" r="1.25" fill="#c00000"/>
<circle cx="38" cy="143.5" r="1.25" fill="#c00000"/>
<circle cx="41" cy="142.3" r="1.25" fill="#c00000"/>
<circle cx="46" cy="142.5" r="1.25" fill="#c00000"/>
<circle cx="47" cy="143.5" r="1.25" fill="#c00000"/>
<circle cx="49" cy="142.3" r="1.25" fill="#c00000"/>
<circle cx="52" cy="142.5" r="1.25" fill="#c00000"/>
<circle cx="53" cy="144" r="1.25" fill="#c00000"/>
<circle cx="56" cy="143.8" r="1.25" fill="#c00000"/>
<circle cx="58" cy="142.5" r="1.25" fill="#c00000"/>
<circle cx="60" cy="143.5" r="1.25" fill="#c00000"/>
<circle cx="62" cy="144.5" r="1.25" fill="#c00000"/>
<circle cx="40" cy="144" r="1.25" fill="#0000b4"/>
<circle cx="42" cy="143" r="1.25" fill="#0000b4"/>
<circle cx="44" cy="142.5" r="1.25" fill="#0000b4"/>
<circle cx="46" cy="144.5" r="1.25" fill="#0000b4"/>
<circle cx="50" cy="145.5" r="1.25" fill="#0000b4"/>
<circle cx="51" cy="143" r="1.25" fill="#0000b4"/>
<circle cx="54" cy="145" r="1.25" fill="#0000b4"/>
<circle cx="55" cy="146" r="1.25" fill="#0000b4"/>
<circle cx="57" cy="144.5" r="1.25" fill="#0000b4"/>
<ellipse cx="201.5" cy="143.5" rx="2.1" ry="1.65" fill="#c00000"/>
<ellipse cx="205" cy="144.3" rx="2.1" ry="1.65" fill="#c00000"/>
<circle cx="221" cy="145" r="1.25" fill="#c00000"/>
<circle cx="223.5" cy="146" r="1.25" fill="#c00000"/>
<ellipse cx="227.5" cy="146.3" rx="2.1" ry="1.65" fill="#c00000"/>
<circle cx="230.5" cy="147.3" r="1.25" fill="#c00000"/>
<ellipse cx="235" cy="148.3" rx="2.1" ry="1.65" fill="#c00000"/>
<circle cx="237.5" cy="149.5" r="1.25" fill="#c00000"/>
<circle cx="238.7" cy="151" r="1.25" fill="#c00000"/>
<ellipse cx="246.5" cy="151.5" rx="2.1" ry="1.65" fill="#c00000"/>
<circle cx="248.5" cy="153" r="1.25" fill="#c00000"/>
<circle cx="252" cy="152.5" r="1.25" fill="#c00000"/>
<circle cx="258.6" cy="158.5" r="1.25" fill="#c00000"/>
<circle cx="268.1" cy="157.2" r="1.25" fill="#c00000"/>
<circle cx="267.4" cy="162.5" r="1.25" fill="#c00000"/>
<circle cx="307.5" cy="167.8" r="1.25" fill="#c00000"/>
<circle cx="304" cy="176.2" r="1.25" fill="#c00000"/>
<ellipse cx="208" cy="145" rx="2.1" ry="1.65" fill="#0000b4"/>
<circle cx="211" cy="145.8" r="1.25" fill="#0000b4"/>
<ellipse cx="217.5" cy="146.5" rx="2.1" ry="1.65" fill="#0000b4"/>
<circle cx="219.5" cy="147.5" r="1.25" fill="#0000b4"/>
<circle cx="225.5" cy="148" r="1.25" fill="#0000b4"/>
<circle cx="229.5" cy="148.3" r="1.25" fill="#0000b4"/>
<ellipse cx="240" cy="149.5" rx="2.1" ry="1.65" fill="#0000b4"/>
<ellipse cx="242.5" cy="151" rx="2.1" ry="1.65" fill="#0000b4"/>
<circle cx="243.5" cy="152.8" r="1.25" fill="#0000b4"/>
<circle cx="246.5" cy="153.5" r="1.25" fill="#0000b4"/>
<circle cx="258.9" cy="155.2" r="1.25" fill="#0000b4"/>
<circle cx="263.2" cy="157.9" r="1.25" fill="#0000b4"/>
<circle cx="265.8" cy="155.2" r="1.25" fill="#0000b4"/>
<circle cx="263.8" cy="161.1" r="1.3" fill="none" stroke="#0000b4" stroke-width="1.1"/>
<circle cx="274.7" cy="161.1" r="1.25" fill="#0000b4"/>
<circle cx="273.7" cy="163.8" r="1.25" fill="#0000b4"/>
<circle cx="280.2" cy="164.4" r="1.25" fill="#0000b4"/>
<circle cx="283.8" cy="162.1" r="1.3" fill="none" stroke="#0000b4" stroke-width="1.1"/>
<circle cx="280.7" cy="165.2" r="1.25" fill="#0000b4"/>
<circle cx="281" cy="170.1" r="1.3" fill="none" stroke="#0000b4" stroke-width="1.1"/>
<circle cx="290.8" cy="169.5" r="1.25" fill="#0000b4"/>
<circle cx="290.5" cy="173.1" r="1.25" fill="#0000b4"/>
<circle cx="290.6" cy="168.7" r="1.25" fill="#0000b4"/>
<circle cx="301.3" cy="170.2" r="1.3" fill="none" stroke="#0000b4" stroke-width="1.1"/>
<circle cx="298.8" cy="173.9" r="1.25" fill="#0000b4"/>
<circle cx="298.8" cy="176.9" r="1.25" fill="#0000b4"/>
<circle cx="299.1" cy="181.1" r="1.3" fill="none" stroke="#0000b4" stroke-width="1.1"/>
<circle cx="309.2" cy="178.5" r="1.25" fill="#0000b4"/>
<circle cx="308.9" cy="183.4" r="1.25" fill="#0000b4"/>
<ellipse cx="373" cy="143.5" rx="2.4" ry="1.5" fill="#c00000"/>
<circle cx="391" cy="146" r="1.25" fill="#c00000"/>
<circle cx="396" cy="146.5" r="1.25" fill="#c00000"/>
<circle cx="398.3" cy="146.3" r="1.25" fill="#c00000"/>
<circle cx="401" cy="147.5" r="1.25" fill="#c00000"/>
<circle cx="405.8" cy="150.2" r="1.25" fill="#c00000"/>
<circle cx="409.4" cy="149.6" r="1.25" fill="#c00000"/>
<circle cx="410.1" cy="152.2" r="1.25" fill="#c00000"/>
<circle cx="410.4" cy="154.8" r="1.25" fill="#c00000"/>
<circle cx="419.9" cy="158.1" r="1.25" fill="#c00000"/>
<circle cx="426.2" cy="158.4" r="1.25" fill="#c00000"/>
<circle cx="420.7" cy="158.3" r="1.25" fill="#c00000"/>
<circle cx="425.6" cy="159.3" r="1.25" fill="#c00000"/>
<circle cx="446.4" cy="167.3" r="1.25" fill="#c00000"/>
<circle cx="447.9" cy="181.2" r="1.3" fill="none" stroke="#c00000" stroke-width="1.1"/>
<circle cx="454.8" cy="186.2" r="1.25" fill="#c00000"/>
<circle cx="462.6" cy="186.8" r="1.25" fill="#c00000"/>
<circle cx="461" cy="191.4" r="1.25" fill="#c00000"/>
<circle cx="473.3" cy="190.4" r="1.25" fill="#c00000"/>
<circle cx="481.2" cy="186.8" r="1.25" fill="#c00000"/>
<circle cx="471.3" cy="193.7" r="1.25" fill="#c00000"/>
<circle cx="481.2" cy="209.5" r="1.3" fill="none" stroke="#c00000" stroke-width="1.1"/>
<circle cx="483.8" cy="212.5" r="1.25" fill="#c00000"/>
<ellipse cx="380" cy="145" rx="2.4" ry="1.5" fill="#0000b4"/>
<ellipse cx="388" cy="147.5" rx="2.4" ry="1.5" fill="#0000b4"/>
<circle cx="392" cy="148.5" r="1.25" fill="#0000b4"/>
<circle cx="394" cy="149" r="1.25" fill="#0000b4"/>
<ellipse cx="399.6" cy="151.5" rx="2.1" ry="1.65" fill="#0000b4"/>
<circle cx="402.6" cy="150.9" r="1.25" fill="#0000b4"/>
<ellipse cx="405.5" cy="154.8" rx="2.1" ry="1.65" fill="#0000b4"/>
<circle cx="412.7" cy="154.5" r="1.25" fill="#0000b4"/>
<circle cx="417.6" cy="157.8" r="1.25" fill="#0000b4"/>
<ellipse cx="421" cy="161.8" rx="2.4" ry="1.5" fill="#0000b4"/>
<circle cx="425" cy="162.8" r="1.25" fill="#0000b4"/>
<circle cx="428.5" cy="164.3" r="1.25" fill="#0000b4"/>
<ellipse cx="432" cy="171.5" rx="2.4" ry="1.5" fill="#0000b4"/>
<circle cx="429.5" cy="171" r="1.25" fill="#0000b4"/>
<ellipse cx="440.5" cy="171.9" rx="2.1" ry="1.65" fill="#0000b4"/>
<circle cx="442.6" cy="182.6" r="1.3" fill="none" stroke="#0000b4" stroke-width="1.1"/>
<circle cx="446.6" cy="182.6" r="1.25" fill="#0000b4"/>
<circle cx="453.8" cy="181.9" r="1.3" fill="none" stroke="#0000b4" stroke-width="1.1"/>
<circle cx="453.1" cy="184.5" r="1.25" fill="#0000b4"/>
<circle cx="456" cy="197" r="1.3" fill="none" stroke="#0000b4" stroke-width="1.1"/>
<circle cx="458" cy="199" r="1.25" fill="#0000b4"/>
<circle cx="461.5" cy="197.5" r="1.25" fill="#0000b4"/>
<circle cx="462" cy="195.5" r="1.3" fill="none" stroke="#0000b4" stroke-width="1.1"/>
<circle cx="467.9" cy="200.8" r="1.25" fill="#0000b4"/>
<path d="M25.5,14 C26.75,14.02 30.92,13.93 33,14.1 C35.08,14.27 36.07,14.38 38,15 C39.93,15.62 41.77,16.47 44.6,17.8 C47.43,19.13 51.60,21.27 55,23 C58.40,24.73 61.50,26.38 65,28.2 C68.50,30.02 72.17,31.90 76,33.9 C79.83,35.90 83.83,38.03 88,40.2 C92.17,42.37 96.33,44.57 101,46.9 C105.67,49.23 111.33,52.05 116,54.2 C120.67,56.35 126.83,58.87 129,59.8" fill="none" stroke="#000" stroke-width="1.3" stroke-linejoin="round" />
<path d="M25.5,14 C26.75,14.33 30.58,14.67 33,16 C35.42,17.33 37.67,19.75 40,22 C42.33,24.25 43.10,25.83 47,29.5 C50.90,33.17 59.45,40.82 63.4,44 C67.35,47.18 66.60,46.40 70.7,48.6 C74.80,50.80 82.95,55.02 88,57.2 C93.05,59.38 96.62,60.18 101,61.7 C105.38,63.22 109.47,64.50 114.3,66.3 C119.13,68.10 127.38,71.47 130,72.5" fill="none" stroke="#000" stroke-width="1.15" stroke-linejoin="round" stroke-dasharray="1.8,0.8"/>
<path d="M195,14 C197.02,14.10 203.98,13.73 207.1,14.6 C210.22,15.47 211.28,17.45 213.7,19.2 C216.12,20.95 218.75,22.80 221.6,25.1 C224.45,27.40 227.40,29.85 230.8,33 C234.20,36.15 237.47,39.77 242,44 C246.53,48.23 252.72,53.73 258,58.4 C263.28,63.07 270.20,69.07 273.7,72 C277.20,74.93 275.50,73.27 279,76 C282.50,78.73 292.08,86.33 294.7,88.4" fill="none" stroke="#000" stroke-width="1.3" stroke-linejoin="round" />
<path d="M195,14 C196.15,14.43 199.88,15.18 201.9,16.6 C203.92,18.02 204.92,20.10 207.1,22.5 C209.28,24.90 211.93,27.42 215,31 C218.07,34.58 218.93,36.58 225.5,44 C232.07,51.42 247.47,68.65 254.4,75.5 C261.33,82.35 262.80,81.85 267.1,85.1 C271.40,88.35 275.72,92.05 280.2,95 C284.68,97.95 291.70,101.50 294,102.8" fill="none" stroke="#000" stroke-width="1.15" stroke-linejoin="round" stroke-dasharray="1.8,0.8"/>
<path d="M362,14 C362.50,14.00 361.23,13.45 365,14 C368.77,14.55 378.05,15.77 384.6,17.3 C391.15,18.83 398.15,21.25 404.3,23.2 C410.45,25.15 413.08,25.62 421.5,29 C429.92,32.38 448.27,40.57 454.8,43.5 C461.33,46.43 459.72,46.08 460.7,46.6" fill="none" stroke="#000" stroke-width="1.3" stroke-linejoin="round" />
<path d="M362,14 C364.02,14.08 370.33,13.73 374.1,14.5 C377.87,15.27 380.77,16.93 384.6,18.6 C388.43,20.27 393.05,22.53 397.1,24.5 C401.15,26.47 404.83,28.32 408.9,30.4 C412.97,32.48 417.45,34.57 421.5,37 C425.55,39.43 429.07,42.20 433.2,45 C437.33,47.80 441.58,50.35 446.3,53.8 C451.02,57.25 458.97,63.72 461.5,65.7" fill="none" stroke="#000" stroke-width="1.15" stroke-linejoin="round" stroke-dasharray="1.8,0.8"/>
<path d="M31,144.3 C31.67,144.13 33.58,143.53 35,143.3 C36.42,143.07 38.00,142.88 39.5,142.9 C41.00,142.92 42.58,143.12 44,143.4 C45.42,143.68 46.67,144.10 48,144.6 C49.33,145.10 50.67,145.77 52,146.4 C53.33,147.03 54.67,147.73 56,148.4 C57.33,149.07 57.67,149.22 60,150.4 C62.33,151.58 66.67,153.80 70,155.5 C73.33,157.20 76.67,159.03 80,160.6 C83.33,162.17 86.67,163.50 90,164.9 C93.33,166.30 96.67,167.68 100,169 C103.33,170.32 107.33,171.83 110,172.8 C112.67,173.77 113.33,173.92 116,174.8 C118.67,175.68 122.67,176.98 126,178.1 C129.33,179.22 134.33,180.93 136,181.5" fill="none" stroke="#000" stroke-width="1.3" stroke-linejoin="round" />
<path d="M31,148.5 C31.50,148.08 33.00,146.72 34,146 C35.00,145.28 36.00,144.62 37,144.2 C38.00,143.78 38.83,143.43 40,143.5 C41.17,143.57 42.67,144.07 44,144.6 C45.33,145.13 46.67,145.97 48,146.7 C49.33,147.43 50.67,148.23 52,149 C53.33,149.77 54.67,150.53 56,151.3 C57.33,152.07 57.67,152.27 60,153.6 C62.33,154.93 66.67,157.40 70,159.3 C73.33,161.20 76.67,163.38 80,165 C83.33,166.62 86.67,167.70 90,169 C93.33,170.30 96.67,171.48 100,172.8 C103.33,174.12 107.33,175.77 110,176.9 C112.67,178.03 113.33,178.55 116,179.6 C118.67,180.65 122.67,182.00 126,183.2 C129.33,184.40 134.33,186.20 136,186.8" fill="none" stroke="#000" stroke-width="1.15" stroke-linejoin="round" stroke-dasharray="1.8,0.8"/>
<path d="M195,143.5 C198.00,143.55 208.50,143.52 213,143.8 C217.50,144.08 218.73,144.47 222,145.2 C225.27,145.93 228.77,147.10 232.6,148.2 C236.43,149.30 241.27,150.65 245,151.8 C248.73,152.95 251.17,153.68 255,155.1 C258.83,156.52 263.83,158.52 268,160.3 C272.17,162.08 276.25,164.00 280,165.8 C283.75,167.60 288.17,169.92 290.5,171.1 C292.83,172.28 293.42,172.60 294,172.9" fill="none" stroke="#000" stroke-width="1.3" stroke-linejoin="round" />
<path d="M367,143.9 C369.67,143.92 378.83,143.65 383,144 C387.17,144.35 389.17,145.23 392,146 C394.83,146.77 397.33,147.63 400,148.6 C402.67,149.57 405.50,150.60 408,151.8 C410.50,153.00 412.67,154.35 415,155.8 C417.33,157.25 419.83,158.92 422,160.5 C424.17,162.08 425.38,163.47 428,165.3 C430.62,167.13 434.20,169.10 437.7,171.5 C441.20,173.90 445.02,176.87 449,179.7 C452.98,182.53 459.50,187.03 461.6,188.5" fill="none" stroke="#000" stroke-width="1.3" stroke-linejoin="round" />
<path d="M367,143.9 C369.67,143.95 378.83,143.77 383,144.2 C387.17,144.63 389.17,145.65 392,146.5 C394.83,147.35 397.33,148.25 400,149.3 C402.67,150.35 405.50,151.52 408,152.8 C410.50,154.08 413.00,155.67 415,157 C417.00,158.33 417.83,159.08 420,160.8 C422.17,162.52 425.50,165.32 428,167.3 C430.50,169.28 432.48,170.63 435,172.7 C437.52,174.77 440.30,177.15 443.1,179.7 C445.90,182.25 449.03,185.30 451.8,188 C454.57,190.70 458.38,194.58 459.7,195.9" fill="none" stroke="#000" stroke-width="1.15" stroke-linejoin="round" stroke-dasharray="1.8,0.8"/>
</svg></body></html>
